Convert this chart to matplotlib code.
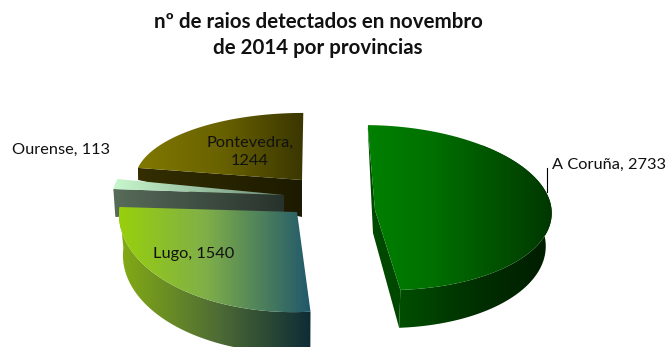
import numpy as np
import matplotlib
matplotlib.use("Agg")
import matplotlib.pyplot as plt
from matplotlib.patches import Polygon
from matplotlib.colors import LinearSegmentedColormap

title = "nº de raios detectados en novembro\nde 2014 por provincias"
categories = ["A Coruña", "Lugo", "Ourense", "Pontevedra"]
values = [2733, 1540, 113, 1244]

START_ANGLE = 2.5
sweep = 360 * np.array(values) / sum(values)
ends = START_ANGLE + np.cumsum(sweep)
starts = ends - sweep

# projected geometry of each exploded slice (pixel space): apex, axes, for top and bottom faces
GEOM = {
    "A Coruña": dict(top=((376, 207.6), (175, -2), (-16, -82.5)), bot=((375, 240), (170, -2), (-16, -88))),
    "Lugo": dict(top=((297, 212), (178, -5), (-5, -100)), bot=((297, 253), (174, -5), (-5, -100))),
    "Ourense": dict(top=((284, 195), (172, -2), (5, -80)), bot=((284, 212), (170, -13), (5, -80))),
    "Pontevedra": dict(top=((302, 180), (167, -3), (-6, -67)), bot=((302, 217), (167, 22.6), (-5, -67))),
}
CORUNA_VERTEX = (375, 210)
CORUNA_CUT_VERTEX = (373, 233)
STYLE = {
    "A Coruña": dict(top=[(0, (0, 128, 0)), (.35, (0, 112, 0)), (1, (0, 55, 0))],
                     wall=[(0, (0, 78, 0)), (.5, (0, 48, 0)), (1, (0, 28, 0))], cut=(0, 72, 0)),
    "Lugo": dict(top=[(0, (152, 208, 12)), (.45, (128, 175, 72)), (1, (33, 88, 108))],
                 wall=[(0, (132, 172, 20)), (.5, (80, 110, 52)), (1, (14, 44, 54))]),
    "Ourense": dict(top=[(0, (200, 248, 205)), (1, (110, 140, 120))],
                    cut=[(0, (88, 108, 90)), (1, (40, 50, 44))]),
    "Pontevedra": dict(top=[(0, (128, 120, 0)), (.5, (105, 98, 0)), (1, (58, 54, 0))],
                       cut=[(0, (52, 46, 0)), (1, (28, 26, 0))]),
}


def project(face, theta):
    (cx, cy), (ax, ay), (bx, by) = face
    t = np.radians(np.atleast_1d(theta))
    return np.column_stack([cx + ax * np.sin(t) + bx * np.cos(t), cy + ay * np.sin(t) + by * np.cos(t)])


def fill(ax, pts, stops):
    pts = np.asarray(pts)
    if isinstance(stops, tuple):
        ax.add_patch(Polygon(pts, closed=True, fc=np.array(stops) / 255, ec="none", zorder=ax.zo))
        return
    x0, x1 = pts[:, 0].min(), pts[:, 0].max()
    y0, y1 = pts[:, 1].min(), pts[:, 1].max()
    cmap = LinearSegmentedColormap.from_list("g", [(p, np.array(c) / 255) for p, c in stops])
    im = ax.imshow(np.linspace(0, 1, 256)[None, :], extent=(x0, x1, y1, y0), cmap=cmap, aspect="auto",
                   interpolation="bilinear", zorder=ax.zo)
    patch = Polygon(pts, closed=True, transform=ax.transData, fc="none", ec="none")
    ax.add_patch(patch)
    im.set_clip_path(patch)


fig = plt.figure(figsize=(6.67, 3.47), dpi=100)
ax = fig.add_axes([0, 0, 1, 1])
ax.zo = 1

for i in [3, 2, 1, 0]:
    name = categories[i]
    g, s = GEOM[name], STYLE[name]
    th = np.linspace(starts[i], ends[i], 120)
    top, bot = project(g["top"], th), project(g["bot"], th)
    apex_t, apex_b = np.array(g["top"][0]), np.array(g["bot"][0])
    ax.zo += 1
    if name == "A Coruña":
        apex_t = np.array(CORUNA_VERTEX)
        fill(ax, [top[0], CORUNA_CUT_VERTEX, bot[-1], top[-1], apex_t], s["cut"])
    if name in ("Ourense", "Pontevedra"):
        fill(ax, [top[0], apex_t, apex_b, bot[0]], s["cut"])
    if name in ("A Coruña", "Lugo"):
        ax.zo += 1
        th_wall = np.linspace(starts[i] + (40 if name == "A Coruña" else 0), ends[i], 120)
        fill(ax, np.vstack([project(g["top"], th_wall), project(g["bot"], th_wall)[::-1]]), s["wall"])
    ax.zo += 1
    fill(ax, np.vstack([apex_t, top]), s["top"])

ax.set_xlim(0, 667)
ax.set_ylim(347, 0)
ax.axis("off")

FONT = "Lato"
ax.text(318, 35, title, ha="center", va="center", fontsize=14.8, fontweight="bold", family=FONT,
        linespacing=1.35, color="#111111", zorder=50)
LABELS = {"A Coruña": (552, 165, "left"), "Lugo": (194, 254, "center"),
          "Ourense": (12, 150, "left"), "Pontevedra": (250, 152, "center")}
TEXT = {n: f"{n}, {v}" for n, v in zip(categories, values)}
TEXT["Pontevedra"] = f"Pontevedra,\n{values[3]}"
for n, (x, y, ha) in LABELS.items():
    ax.text(x, y, TEXT[n], ha=ha, va="center", fontsize=11.8, family=FONT, color="#111111", zorder=50,
            linespacing=1.45)
ax.plot([547, 547], [168, 192], color="black", lw=0.8, zorder=49)

fig.savefig("out.png", dpi=100, facecolor="white")
